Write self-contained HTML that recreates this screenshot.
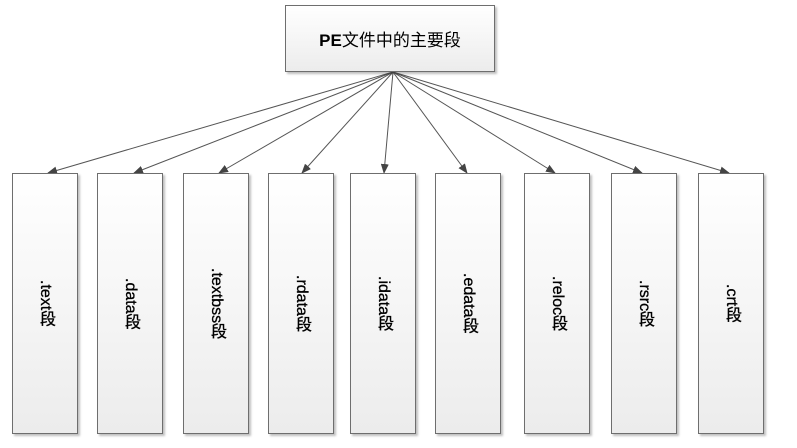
<!DOCTYPE html>
<html><head><meta charset="utf-8"><style>
body{margin:0;width:797px;height:448px;background:#fff;position:relative;overflow:hidden;font-family:"Liberation Sans","Noto Sans CJK SC",sans-serif;}
.b{position:absolute;border:1.5px solid #6e6e6e;box-sizing:border-box;background:linear-gradient(#ffffff,#ececec);box-shadow:2px 2px 2px rgba(0,0,0,0.25);display:flex;align-items:center;justify-content:center;color:#000;}
.s{top:173px;height:261px;width:66px;}
.s span{writing-mode:vertical-rl;font-size:16px;-webkit-text-stroke:0.3px #000;}
</style></head><body>
<svg width="797" height="448" style="position:absolute;left:0;top:0">
<defs><marker id="a" markerWidth="10" markerHeight="8" refX="9" refY="4" orient="auto" markerUnits="userSpaceOnUse"><path d="M0,0L10,4L0,8z" fill="#444"/></marker></defs>
<g stroke="#555" stroke-width="1" marker-end="url(#a)">
<line x1="393" y1="72" x2="48" y2="173"/>
<line x1="393" y1="72" x2="134" y2="173"/>
<line x1="393" y1="72" x2="219" y2="173"/>
<line x1="393" y1="72" x2="302" y2="173"/>
<line x1="393" y1="72" x2="384" y2="173"/>
<line x1="393" y1="72" x2="467" y2="173"/>
<line x1="393" y1="72" x2="555" y2="173"/>
<line x1="393" y1="72" x2="642" y2="173"/>
<line x1="393" y1="72" x2="729" y2="173"/>
</g></svg>
<div class="b" style="left:285px;top:5px;width:210px;height:67px;font-size:17px;"><span><b>PE</b>文件中的主要段</span></div>
<div class="b s" style="left:12px"><span>.text段</span></div>
<div class="b s" style="left:97px"><span>.data段</span></div>
<div class="b s" style="left:183px"><span>.textbss段</span></div>
<div class="b s" style="left:268px"><span>.rdata段</span></div>
<div class="b s" style="left:350px"><span>.idata段</span></div>
<div class="b s" style="left:435px"><span>.edata段</span></div>
<div class="b s" style="left:524px"><span>.reloc段</span></div>
<div class="b s" style="left:611px"><span>.rsrc段</span></div>
<div class="b s" style="left:698px"><span>.crt段</span></div>
</body></html>
